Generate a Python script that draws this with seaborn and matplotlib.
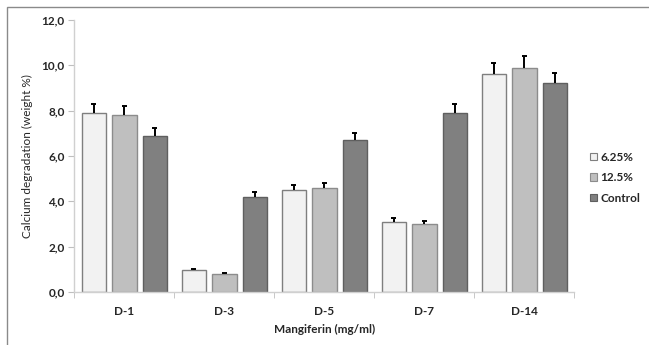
import numpy as np
import pandas as pd
import matplotlib
matplotlib.use("Agg")
import matplotlib.pyplot as plt
from matplotlib.patches import Rectangle
import seaborn as sns

days = ["D-1", "D-3", "D-5", "D-7", "D-14"]
groups = ["6.25%", "12.5%", "Control"]
vals_625 = [7.9, 0.95, 4.5, 3.1, 9.6]
vals_125 = [7.8, 0.8, 4.6, 3.0, 9.9]
vals_ctrl = [6.9, 4.2, 6.7, 7.9, 9.2]
err_625 = [0.4, 0.05, 0.2, 0.15, 0.5]
err_125 = [0.4, 0.05, 0.2, 0.15, 0.5]
err_ctrl = [0.35, 0.2, 0.3, 0.4, 0.45]
yticks = [0, 2, 4, 6, 8, 10, 12]
ytick_labels = ["0,0", "2,0", "4,0", "6,0", "8,0", "10,0", "12,0"]

FILLS = ["#f2f2f2", "#bfbfbf", "#808080"]
EDGES = ["#7f7f7f", "#8c8c8c", "#5f5f5f"]
TXT = "#262626"

df = pd.DataFrame({
    "day": days * 3,
    "group": [g for g in groups for _ in days],
    "value": vals_625 + vals_125 + vals_ctrl,
    "err": err_625 + err_125 + err_ctrl,
})

sns.set_style("white")
plt.rcParams["font.family"] = ["Lato", "DejaVu Sans"]

fig = plt.figure(figsize=(6.49, 3.45), dpi=100)
ax = fig.add_axes([74.3 / 649, 1 - 292 / 345, 500 / 649, 272 / 345])

sns.barplot(data=df, x="day", y="value", hue="group", order=days,
            hue_order=groups, palette=FILLS, width=0.915, gap=0.2,
            errorbar=None, ax=ax, linewidth=1.0, saturation=1)

# edge colours + upward-only error bars (single cap on top)
bar_containers = list(ax.containers)
for i, cont in enumerate(bar_containers):
    sub = df[df["group"] == groups[i]].set_index("day").loc[days]
    xs, ys = [], []
    for bar in cont:
        bar.set_edgecolor(EDGES[i])
        xs.append(bar.get_x() + bar.get_width() / 2)
        ys.append(bar.get_height())
    xs = np.array(xs)
    tops = np.array(ys) + sub["err"].values
    ax.vlines(xs, ys, tops, color="black", linewidth=1.4, zorder=5)
    ax.hlines(tops, xs - 0.025, xs + 0.025, color="black", linewidth=1.4,
              zorder=5)

ax.set_xlim(-0.5, len(days) - 0.5)
ax.set_ylim(0, 12)
ax.set_yticks(yticks)
ax.set_yticklabels(ytick_labels, fontsize=8.5, fontweight="bold", color=TXT)
ax.set_xticks(range(len(days)))
ax.set_xticklabels(days, fontsize=8.5, fontweight="bold", color=TXT)
ax.tick_params(axis="x", length=0, pad=10)
ax.tick_params(axis="y", length=4, color="#bfbfbf", pad=3, left=True)
# group separator ticks on x axis
ax.set_xticks(np.arange(-0.5, len(days)), minor=True)
ax.tick_params(axis="x", which="minor", length=4, color="#bfbfbf", bottom=True)

for s in ["top", "right"]:
    ax.spines[s].set_visible(False)
for s in ["left", "bottom"]:
    ax.spines[s].set_color("#d0d0d0")
    ax.spines[s].set_linewidth(1.0)

ax.set_xlabel("Mangiferin (mg/ml)", fontsize=8.5, fontweight="bold",
              color=TXT, labelpad=5)
ax.set_ylabel("Calcium degradation (weight %)", fontsize=8.5,
              color=TXT, labelpad=6)

handles, labels = ax.get_legend_handles_labels()
for h, ec in zip(handles, EDGES):
    h.set_edgecolor(ec)
    h.set_linewidth(0.8)
ax.legend(handles, labels, loc="center left", bbox_to_anchor=(1.01, 0.42),
          frameon=False, handlelength=0.6, handleheight=0.6,
          handletextpad=0.3, labelspacing=0.8,
          prop={"size": 8.5, "weight": "bold"})

# outer chart frame (only top/left visible in the crop)
fig.add_artist(Rectangle((7 / 649, -0.1), 1.1, 1 - 7 / 345 + 0.1,
                         transform=fig.transFigure, fill=False,
                         edgecolor="#8a8a8a", linewidth=1.0))

fig.savefig("out.png", dpi=100)
